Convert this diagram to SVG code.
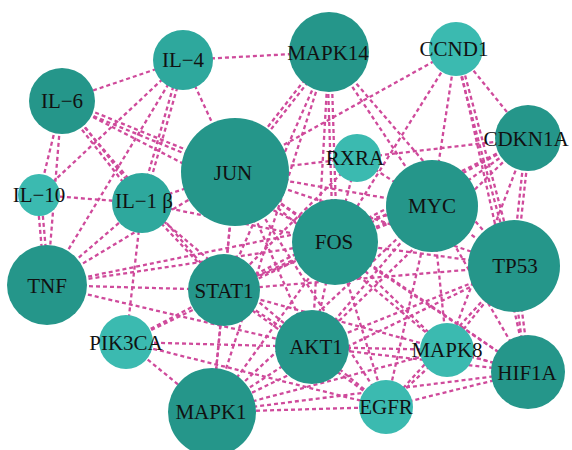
<svg xmlns="http://www.w3.org/2000/svg" width="572" height="450" viewBox="0 0 572 450">
<style>
.e{stroke:#cf4a9b;stroke-width:2.3;stroke-dasharray:4 3;fill:none}
.d{fill:#25968a}
.m{fill:#2ea89d}
.l{fill:#3bbab0}
text{font-family:"Liberation Serif","Times New Roman",serif;font-size:21px;fill:#111;text-anchor:middle}
</style>
<rect width="572" height="450" fill="#ffffff"/>
<g id="edges">
<line class="e" x1="183" y1="60" x2="329" y2="52"/>
<line class="e" x1="183" y1="60" x2="62" y2="101"/>
<line class="e" x1="183" y1="60" x2="235" y2="172"/>
<line class="e" x1="181" y1="59.5" x2="140" y2="202.5"/>
<line class="e" x1="185" y1="60.5" x2="144" y2="203.5"/>
<line class="e" x1="183" y1="60" x2="39" y2="195"/>
<line class="e" x1="183" y1="60" x2="47" y2="285"/>
<line class="e" x1="61.2" y1="102.9" x2="234.2" y2="173.9"/>
<line class="e" x1="62.8" y1="99.2" x2="235.8" y2="170.2"/>
<line class="e" x1="60.4" y1="102.2" x2="140.4" y2="204.2"/>
<line class="e" x1="63.6" y1="99.8" x2="143.6" y2="201.8"/>
<line class="e" x1="62" y1="101" x2="39" y2="195"/>
<line class="e" x1="62" y1="101" x2="47" y2="285"/>
<line class="e" x1="62" y1="101" x2="224" y2="290"/>
<line class="e" x1="62" y1="101" x2="335" y2="242"/>
<line class="e" x1="39" y1="195" x2="142" y2="203"/>
<line class="e" x1="37" y1="195" x2="45" y2="285"/>
<line class="e" x1="41" y1="195" x2="49" y2="285"/>
<line class="e" x1="47" y1="285" x2="142" y2="203"/>
<line class="e" x1="47" y1="285" x2="235" y2="172"/>
<line class="e" x1="47" y1="285" x2="224" y2="290"/>
<line class="e" x1="47" y1="285" x2="335" y2="242"/>
<line class="e" x1="47" y1="285" x2="312" y2="347"/>
<line class="e" x1="47" y1="285" x2="432" y2="206"/>
<line class="e" x1="142" y1="203" x2="235" y2="172"/>
<line class="e" x1="142" y1="203" x2="224" y2="290"/>
<line class="e" x1="142" y1="203" x2="126" y2="342"/>
<line class="e" x1="142" y1="203" x2="335" y2="242"/>
<line class="e" x1="142" y1="203" x2="312" y2="347"/>
<line class="e" x1="233.4" y1="170.8" x2="327.4" y2="50.8"/>
<line class="e" x1="236.6" y1="173.2" x2="330.6" y2="53.2"/>
<line class="e" x1="235" y1="172" x2="456" y2="49"/>
<line class="e" x1="235" y1="172" x2="357" y2="158"/>
<line class="e" x1="235" y1="172" x2="335" y2="242"/>
<line class="e" x1="235" y1="172" x2="432" y2="206"/>
<line class="e" x1="235" y1="172" x2="224" y2="290"/>
<line class="e" x1="235" y1="172" x2="312" y2="347"/>
<line class="e" x1="235" y1="172" x2="514" y2="266"/>
<line class="e" x1="235" y1="172" x2="212" y2="412"/>
<line class="e" x1="235" y1="172" x2="528" y2="372"/>
<line class="e" x1="235" y1="172" x2="447" y2="350"/>
<line class="e" x1="235" y1="172" x2="386" y2="407"/>
<line class="e" x1="327" y1="52" x2="333" y2="242"/>
<line class="e" x1="331" y1="52" x2="337" y2="242"/>
<line class="e" x1="329" y1="52" x2="432" y2="206"/>
<line class="e" x1="329" y1="52" x2="514" y2="266"/>
<line class="e" x1="329" y1="52" x2="224" y2="290"/>
<line class="e" x1="329" y1="52" x2="212" y2="412"/>
<line class="e" x1="329" y1="52" x2="312" y2="347"/>
<line class="e" x1="456" y1="49" x2="432" y2="206"/>
<line class="e" x1="454.1" y1="49.5" x2="512.1" y2="266.5"/>
<line class="e" x1="457.9" y1="48.5" x2="515.9" y2="265.5"/>
<line class="e" x1="456" y1="49" x2="528" y2="138"/>
<line class="e" x1="456" y1="49" x2="335" y2="242"/>
<line class="e" x1="456" y1="49" x2="528" y2="372"/>
<line class="e" x1="528" y1="138" x2="357" y2="158"/>
<line class="e" x1="528" y1="138" x2="432" y2="206"/>
<line class="e" x1="526" y1="138" x2="512" y2="266"/>
<line class="e" x1="530" y1="138" x2="516" y2="266"/>
<line class="e" x1="528" y1="138" x2="335" y2="242"/>
<line class="e" x1="528" y1="138" x2="312" y2="347"/>
<line class="e" x1="528" y1="138" x2="447" y2="350"/>
<line class="e" x1="528" y1="138" x2="224" y2="290"/>
<line class="e" x1="357" y1="158" x2="335" y2="242"/>
<line class="e" x1="357" y1="158" x2="432" y2="206"/>
<line class="e" x1="357" y1="158" x2="224" y2="290"/>
<line class="e" x1="432" y1="206" x2="514" y2="266"/>
<line class="e" x1="432" y1="206" x2="335" y2="242"/>
<line class="e" x1="432" y1="206" x2="312" y2="347"/>
<line class="e" x1="432" y1="206" x2="224" y2="290"/>
<line class="e" x1="432" y1="206" x2="212" y2="412"/>
<line class="e" x1="432" y1="206" x2="528" y2="372"/>
<line class="e" x1="432" y1="206" x2="386" y2="407"/>
<line class="e" x1="432" y1="206" x2="447" y2="350"/>
<line class="e" x1="512" y1="266" x2="526" y2="372"/>
<line class="e" x1="516" y1="266" x2="530" y2="372"/>
<line class="e" x1="514" y1="266" x2="335" y2="242"/>
<line class="e" x1="514" y1="266" x2="312" y2="347"/>
<line class="e" x1="514" y1="266" x2="224" y2="290"/>
<line class="e" x1="514" y1="266" x2="212" y2="412"/>
<line class="e" x1="514" y1="266" x2="386" y2="407"/>
<line class="e" x1="514" y1="266" x2="447" y2="350"/>
<line class="e" x1="528" y1="372" x2="447" y2="350"/>
<line class="e" x1="528" y1="372" x2="386" y2="407"/>
<line class="e" x1="528" y1="372" x2="312" y2="347"/>
<line class="e" x1="528" y1="372" x2="335" y2="242"/>
<line class="e" x1="528" y1="372" x2="212" y2="412"/>
<line class="e" x1="528" y1="372" x2="224" y2="290"/>
<line class="e" x1="386" y1="407" x2="212" y2="412"/>
<line class="e" x1="386" y1="407" x2="312" y2="347"/>
<line class="e" x1="386" y1="407" x2="447" y2="350"/>
<line class="e" x1="386" y1="407" x2="224" y2="290"/>
<line class="e" x1="386" y1="407" x2="335" y2="242"/>
<line class="e" x1="312" y1="347" x2="212" y2="412"/>
<line class="e" x1="312" y1="347" x2="224" y2="290"/>
<line class="e" x1="312" y1="347" x2="335" y2="242"/>
<line class="e" x1="312" y1="347" x2="126" y2="342"/>
<line class="e" x1="312" y1="347" x2="447" y2="350"/>
<line class="e" x1="126" y1="342" x2="224" y2="290"/>
<line class="e" x1="126" y1="342" x2="212" y2="412"/>
<line class="e" x1="126" y1="342" x2="335" y2="242"/>
<line class="e" x1="126" y1="342" x2="386" y2="407"/>
<line class="e" x1="212" y1="412" x2="224" y2="290"/>
<line class="e" x1="212" y1="412" x2="335" y2="242"/>
<line class="e" x1="212" y1="412" x2="447" y2="350"/>
<line class="e" x1="224" y1="290" x2="335" y2="242"/>
<line class="e" x1="335" y1="242" x2="447" y2="350"/>
</g>
<g id="IL-4"><circle class="m" cx="183" cy="60" r="30"/><text x="183" y="67">IL−4</text></g>
<g id="MAPK14"><circle class="d" cx="329" cy="52" r="40"/><text x="328" y="60">MAPK14</text></g>
<g id="CCND1"><circle class="l" cx="456" cy="49" r="27"/><text x="454" y="56">CCND1</text></g>
<g id="IL-6"><circle class="d" cx="62" cy="101" r="33"/><text x="62" y="108">IL−6</text></g>
<g id="CDKN1A"><circle class="d" cx="528" cy="138" r="33"/><text x="526" y="146">CDKN1A</text></g>
<g id="RXRA"><circle class="l" cx="357" cy="158" r="24"/><text x="355" y="165">RXRA</text></g>
<g id="JUN"><circle class="d" cx="235" cy="172" r="54"/><text x="233" y="180">JUN</text></g>
<g id="MYC"><circle class="d" cx="432" cy="206" r="46"/><text x="432" y="213">MYC</text></g>
<g id="IL-10"><circle class="l" cx="39" cy="195" r="21"/><text x="39" y="202">IL−10</text></g>
<g id="IL-1b"><circle class="m" cx="142" cy="203" r="30"/><text x="144" y="208">IL−1 β</text></g>
<g id="FOS"><circle class="d" cx="335" cy="242" r="43"/><text x="334" y="249">FOS</text></g>
<g id="TP53"><circle class="d" cx="514" cy="266" r="46"/><text x="515" y="273">TP53</text></g>
<g id="TNF"><circle class="d" cx="47" cy="285" r="40"/><text x="47" y="293">TNF</text></g>
<g id="STAT1"><circle class="d" cx="224" cy="290" r="36"/><text x="224" y="298">STAT1</text></g>
<g id="PIK3CA"><circle class="l" cx="126" cy="342" r="27"/><text x="126" y="350">PIK3CA</text></g>
<g id="AKT1"><circle class="d" cx="312" cy="347" r="37"/><text x="316" y="354">AKT1</text></g>
<g id="MAPK8"><circle class="l" cx="447" cy="350" r="27"/><text x="447" y="357">MAPK8</text></g>
<g id="HIF1A"><circle class="d" cx="528" cy="372" r="37"/><text x="527" y="380">HIF1A</text></g>
<g id="MAPK1"><circle class="d" cx="212" cy="412" r="44"/><text x="211" y="419">MAPK1</text></g>
<g id="EGFR"><circle class="l" cx="386" cy="407" r="27"/><text x="386" y="414">EGFR</text></g>
</svg>
